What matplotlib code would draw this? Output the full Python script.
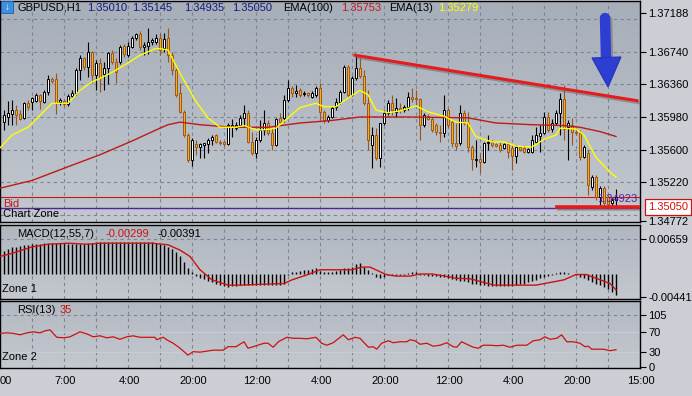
import numpy as np
import matplotlib.pyplot as plt
import matplotlib.patheffects as pe
from matplotlib.patches import Rectangle, Polygon
from matplotlib.colors import to_rgb

plt.rcParams['font.family'] = ['Liberation Sans', 'DejaVu Sans']

# ---- GBPUSD H1 candles (bars 1..154) ----
opens = [
    1.3592, 1.3598, 1.3602, 1.3606, 1.3602, 1.3597, 1.3614, 1.3616, 1.3617, 1.3624,
    1.3616, 1.3627, 1.3642, 1.3642, 1.3616, 1.3617, 1.3613, 1.3623, 1.3626, 1.3653,
    1.3667, 1.3656, 1.3674, 1.3647, 1.3661, 1.3648, 1.3655, 1.3673, 1.3662, 1.3662,
    1.3681, 1.3670, 1.3680, 1.3690, 1.3695, 1.3680, 1.3681, 1.3685, 1.3685, 1.3690,
    1.3678, 1.3690, 1.3670, 1.3653, 1.3626, 1.3604, 1.3577, 1.3548, 1.3567, 1.3563,
    1.3565, 1.3567, 1.3571, 1.3577, 1.3569, 1.3569, 1.3567, 1.3586, 1.3585, 1.3589,
    1.3597, 1.3603, 1.3569, 1.3556, 1.3571, 1.3583, 1.3591, 1.3579, 1.3565, 1.3597,
    1.3597, 1.3618, 1.3632, 1.3626, 1.3629, 1.3625, 1.3626, 1.3621, 1.3624, 1.3632,
    1.3604, 1.3595, 1.3598, 1.3610, 1.3616, 1.3627, 1.3656, 1.3624, 1.3643, 1.3655,
    1.3646, 1.3614, 1.3565, 1.3577, 1.3550, 1.3591, 1.3603, 1.3614, 1.3604, 1.3609,
    1.3606, 1.3610, 1.3621, 1.3620, 1.3619, 1.3589, 1.3599, 1.3596, 1.3589, 1.3581,
    1.3579, 1.3606, 1.3592, 1.3568, 1.3568, 1.3603, 1.3591, 1.3563, 1.3548, 1.3549,
    1.3546, 1.3568, 1.3569, 1.3567, 1.3565, 1.3562, 1.3567, 1.3562, 1.3553, 1.3563,
    1.3562, 1.3557, 1.3557, 1.3569, 1.3576, 1.3579, 1.3598, 1.3584, 1.3591, 1.3603,
    1.3619, 1.3586, 1.3589, 1.3581, 1.3579, 1.3551, 1.3556, 1.3516, 1.3528, 1.3505,
    1.3515, 1.3505, 1.3498, 1.35010]
highs = [
    1.3606, 1.3617, 1.3618, 1.3612, 1.3606, 1.3616, 1.3618, 1.3621, 1.3626, 1.3625,
    1.3629, 1.3647, 1.3645, 1.3649, 1.3620, 1.3619, 1.3625, 1.3629, 1.3655, 1.3670,
    1.3668, 1.3685, 1.3675, 1.3664, 1.3667, 1.3662, 1.3674, 1.3676, 1.3667, 1.3682,
    1.3683, 1.3685, 1.3692, 1.3696, 1.3698, 1.3685, 1.3702, 1.3690, 1.3695, 1.3696,
    1.3696, 1.3702, 1.3674, 1.3655, 1.3638, 1.3606, 1.3579, 1.3574, 1.3571, 1.3568,
    1.3568, 1.3574, 1.3577, 1.3578, 1.3571, 1.3570, 1.3591, 1.3596, 1.3592, 1.3600,
    1.3612, 1.3606, 1.3581, 1.3575, 1.3595, 1.3606, 1.3595, 1.3585, 1.3597, 1.3603,
    1.3624, 1.3641, 1.3634, 1.3635, 1.3632, 1.3628, 1.3627, 1.3628, 1.3634, 1.3638,
    1.3606, 1.3600, 1.3611, 1.3620, 1.3629, 1.3659, 1.3659, 1.3646, 1.3670, 1.3667,
    1.3653, 1.3629, 1.3586, 1.3585, 1.3591, 1.3606, 1.3618, 1.3624, 1.3620, 1.3614,
    1.3612, 1.3627, 1.3632, 1.3629, 1.3620, 1.3603, 1.3602, 1.3598, 1.3591, 1.3589,
    1.3624, 1.3609, 1.3595, 1.3591, 1.3612, 1.3606, 1.3604, 1.3565, 1.3571, 1.3556,
    1.3569, 1.3577, 1.3571, 1.3568, 1.3569, 1.3568, 1.3569, 1.3565, 1.3565, 1.3564,
    1.3565, 1.3562, 1.3577, 1.3586, 1.3589, 1.3604, 1.3604, 1.3596, 1.3606, 1.3626,
    1.3635, 1.3595, 1.3597, 1.3585, 1.3583, 1.3565, 1.3560, 1.3530, 1.3530, 1.3518,
    1.3518, 1.3507, 1.3504, 1.35145]
lows = [
    1.3583, 1.3589, 1.3589, 1.3589, 1.3595, 1.3596, 1.3606, 1.3606, 1.3616, 1.3607,
    1.3614, 1.3624, 1.3638, 1.3602, 1.3612, 1.3611, 1.3611, 1.3620, 1.3624, 1.3641,
    1.3653, 1.3645, 1.3638, 1.3629, 1.3627, 1.3629, 1.3636, 1.3660, 1.3638, 1.3660,
    1.3668, 1.3668, 1.3678, 1.3688, 1.3676, 1.3670, 1.3671, 1.3682, 1.3683, 1.3670,
    1.3674, 1.3662, 1.3647, 1.3621, 1.3603, 1.3575, 1.3546, 1.3541, 1.3554, 1.3550,
    1.3550, 1.3556, 1.3565, 1.3568, 1.3565, 1.3564, 1.3565, 1.3575, 1.3583, 1.3586,
    1.3586, 1.3568, 1.3554, 1.3550, 1.3569, 1.3577, 1.3577, 1.3560, 1.3564, 1.3591,
    1.3592, 1.3616, 1.3621, 1.3621, 1.3621, 1.3623, 1.3621, 1.3620, 1.3621, 1.3595,
    1.3591, 1.3592, 1.3597, 1.3606, 1.3613, 1.3626, 1.3621, 1.3623, 1.3641, 1.3643,
    1.3612, 1.3560, 1.3539, 1.3548, 1.3540, 1.3589, 1.3600, 1.3600, 1.3598, 1.3603,
    1.3604, 1.3606, 1.3616, 1.3612, 1.3571, 1.3586, 1.3594, 1.3581, 1.3577, 1.3569,
    1.3575, 1.3585, 1.3563, 1.3560, 1.3565, 1.3589, 1.3557, 1.3536, 1.3540, 1.3533,
    1.3544, 1.3560, 1.3563, 1.3563, 1.3557, 1.3561, 1.3550, 1.3536, 1.3544, 1.3558,
    1.3556, 1.3556, 1.3556, 1.3568, 1.3557, 1.3578, 1.3581, 1.3581, 1.3589, 1.3577,
    1.3571, 1.3548, 1.3565, 1.3577, 1.3548, 1.3550, 1.3507, 1.3513, 1.3501, 1.3495,
    1.3493, 1.3494, 1.3494, 1.34935]
closes = [
    1.3600, 1.3603, 1.3606, 1.3600, 1.3596, 1.3614, 1.3610, 1.3620, 1.3624, 1.3617,
    1.3627, 1.3642, 1.3640, 1.3614, 1.3618, 1.3613, 1.3623, 1.3626, 1.3653, 1.3667,
    1.3656, 1.3674, 1.3647, 1.3661, 1.3643, 1.3655, 1.3673, 1.3662, 1.3650, 1.3680,
    1.3671, 1.3681, 1.3690, 1.3695, 1.3680, 1.3682, 1.3685, 1.3688, 1.3690, 1.3676,
    1.3689, 1.3670, 1.3653, 1.3624, 1.3604, 1.3577, 1.3548, 1.3571, 1.3563, 1.3567,
    1.3568, 1.3571, 1.3575, 1.3569, 1.3568, 1.3567, 1.3589, 1.3589, 1.3589, 1.3597,
    1.3603, 1.3569, 1.3556, 1.3571, 1.3583, 1.3591, 1.3579, 1.3565, 1.3596, 1.3592,
    1.3618, 1.3632, 1.3626, 1.3628, 1.3624, 1.3626, 1.3624, 1.3626, 1.3632, 1.3604,
    1.3595, 1.3598, 1.3609, 1.3616, 1.3627, 1.3656, 1.3624, 1.3643, 1.3655, 1.3646,
    1.3614, 1.3571, 1.3577, 1.3550, 1.3591, 1.3603, 1.3614, 1.3606, 1.3609, 1.3606,
    1.3610, 1.3621, 1.3619, 1.3619, 1.3589, 1.3600, 1.3596, 1.3583, 1.3581, 1.3579,
    1.3606, 1.3589, 1.3568, 1.3564, 1.3603, 1.3591, 1.3563, 1.3549, 1.3549, 1.3546,
    1.3568, 1.3569, 1.3565, 1.3564, 1.3560, 1.3567, 1.3557, 1.3553, 1.3563, 1.3560,
    1.3557, 1.3561, 1.3571, 1.3577, 1.3579, 1.3598, 1.3583, 1.3591, 1.3603, 1.3619,
    1.3584, 1.3591, 1.3581, 1.3579, 1.3551, 1.3563, 1.3519, 1.3528, 1.3505, 1.3515,
    1.3498, 1.3497, 1.3501, 1.35050]

# moving averages (bar index, value)
ema13_idx = [0, 3, 7, 10, 13, 17, 20, 23, 25, 28, 32, 35, 39, 41, 42, 45, 49, 52, 55, 59,
             61, 64, 66, 69, 72, 75, 79, 81, 84, 87, 90, 92, 94, 97, 100, 104, 107, 111,
             114, 117, 119, 123, 126, 129, 133, 136, 139, 140, 144, 146, 149, 152, 154]
ema13_val = [1.3562, 1.3577, 1.3586, 1.3600, 1.3614, 1.3614, 1.3629, 1.3639, 1.3643, 1.3650,
             1.3661, 1.3670, 1.3678, 1.3677, 1.3676, 1.3649, 1.3616, 1.3597, 1.3586, 1.3586,
             1.3588, 1.3583, 1.3583, 1.3585, 1.3597, 1.3609, 1.3614, 1.3610, 1.3610, 1.3620,
             1.3629, 1.3624, 1.3606, 1.3603, 1.3605, 1.3611, 1.3604, 1.3599, 1.3592, 1.3591,
             1.3575, 1.3569, 1.3569, 1.3564, 1.3563, 1.3572, 1.3577, 1.3585, 1.3584, 1.3577,
             1.3551, 1.3536, 1.35279]
ema100_idx = [0, 8, 17, 25, 33, 40, 42, 45, 50, 58, 67, 75, 83, 90, 102, 117, 124, 133,
              141, 145, 150, 154]
ema100_val = [1.3515, 1.3524, 1.3540, 1.3554, 1.3570, 1.3585, 1.3589, 1.3592, 1.3589, 1.3586,
              1.3586, 1.3591, 1.3594, 1.3598, 1.3598, 1.3597, 1.3591, 1.3589, 1.3588, 1.3586,
              1.3581, 1.35753]

# MACD(12,55,7) histogram per bar and signal line
macd_hist = [
    0.0043, 0.0047, 0.0050, 0.0051, 0.0053, 0.0055, 0.0055, 0.0056, 0.0056, 0.0057,
    0.0058, 0.0058, 0.0059, 0.0059, 0.0058, 0.0058, 0.0056, 0.0056, 0.0056, 0.0056,
    0.0057, 0.0058, 0.0059, 0.0060, 0.0060, 0.0060, 0.0060, 0.0060, 0.0060, 0.0060,
    0.0060, 0.0060, 0.0060, 0.0060, 0.0060, 0.0060, 0.0060, 0.0060, 0.0058, 0.0057,
    0.0055, 0.0051, 0.0047, 0.0041, 0.0033, 0.0023, 0.0012, 0.0003, -0.0003, -0.0007,
    -0.0010, -0.0013, -0.0016, -0.0018, -0.0021, -0.0023, -0.0024, -0.0023, -0.0022, -0.0021,
    -0.0021, -0.0021, -0.0021, -0.0021, -0.0021, -0.0021, -0.0021, -0.0021, -0.0021, -0.0020,
    -0.0018, -0.0002, 0.0003, 0.0004, 0.0006, 0.0007, 0.0008, 0.0010, 0.0012, 0.0006,
    0.0004, 0.0004, 0.0004, 0.0006, 0.0008, 0.0011, 0.0012, 0.0014, 0.0018, 0.0020,
    0.0014, 0.0008, 0.0001, -0.0005, -0.0007, -0.0005, -0.0002, -0.0002, -0.0001, -0.0001,
    -0.0001, 0.0001, 0.0003, 0.0004, -0.0001, -0.0002, -0.0004, -0.0003, -0.0004, -0.0005,
    -0.0006, -0.0008, -0.0009, -0.0011, -0.0013, -0.0014, -0.0016, -0.0018, -0.0019, -0.0021,
    -0.0021, -0.0022, -0.0022, -0.0022, -0.0022, -0.0022, -0.0022, -0.0022, -0.0021, -0.0019,
    -0.0018, -0.0016, -0.0013, -0.0011, -0.0008, -0.0005, -0.0003, -0.0001, 0.0001, 0.0003,
    0.0003, 0.0001, 0.0000, -0.0002, -0.0005, -0.0008, -0.0012, -0.0016, -0.0018, -0.0021,
    -0.0024, -0.0029, -0.0033, -0.00391]
signal_idx = [0, 3, 8, 12, 17, 22, 25, 33, 38, 42, 45, 47.5, 50, 53, 57, 60, 67, 71, 73, 77,
              80, 88, 90.5, 92.5, 96.5, 99, 102.5, 105, 108, 110.5, 114, 117.5, 121, 123.5,
              134, 137.5, 141, 144, 146.5, 149, 152.5, 154]
signal_val = [0.0033, 0.0039, 0.0051, 0.0056, 0.0058, 0.0056, 0.0058, 0.0058, 0.0058, 0.0055,
              0.0045, 0.0033, 0.0008, -0.0011, -0.0021, -0.0021, -0.0019, -0.0018, -0.0011,
              -0.0001, 0.0008, 0.0008, 0.0013, 0.0013, -0.0001, -0.0004, -0.0004, 0.0000,
              0.0000, -0.0003, -0.0008, -0.0009, -0.0016, -0.0021, -0.0021, -0.0016, -0.0011,
              -0.0001, -0.0001, -0.0008, -0.0018, -0.00299]

# RSI(13)
rsi_idx = [0, 1.7, 3.3, 5, 6.7, 8.3, 10, 11.3, 12.5, 13.3, 14.2, 16, 17.5, 20, 21.7, 23.3, 25,
           26.7, 28.3, 30, 31.7, 33.3, 35, 38.7, 39.2, 40, 40.8, 41.7, 43.3, 45, 47, 48.3, 50,
           53.3, 55.8, 57, 59, 61, 62, 63.3, 66, 67, 68.3, 69.6, 71.7, 73.3, 75, 76.7, 79,
           80.4, 81.7, 83.3, 85.8, 87.1, 88.75, 90, 92.1, 93.3, 94.2, 95.4, 97.1, 98.3, 100,
           101.7, 102.5, 103.75, 105, 106.7, 108.3, 110, 111.7, 113.3, 114.2, 115.4, 116.7,
           118.3, 119.6, 120.8, 122.5, 124.2, 125.8, 127.5, 129.2, 131.7, 133.3, 135, 136.25,
           137.5, 139.2, 140.4, 141.7, 143.3, 145, 146.25, 147.1, 147.9, 149.2, 150.8, 152.5,
           153.3, 154]
rsi_val = [68, 69, 68, 65, 69, 71, 69, 73, 75, 68, 60, 59, 61, 71, 67, 61, 63,
           59, 61, 56, 61, 63, 60, 60, 55, 58, 60, 55, 48, 38, 24, 31, 30,
           34, 34, 41, 41, 51, 38, 41, 48, 48, 40, 51, 60, 58, 58, 57, 60,
           48, 44, 49, 65, 55, 60, 58, 40, 41, 36, 48, 53, 49, 51,
           51, 55, 53, 46, 48, 42, 44, 49, 41, 40, 51, 46,
           40, 38, 44, 44, 43, 44, 40, 44, 44, 53, 55, 61,
           56, 58, 65, 51, 51, 48, 41, 42, 36, 36, 36, 33,
           34, 35]

# axis labels / levels
price_ticks = [1.37188, 1.36740, 1.36360, 1.35980, 1.35600, 1.35220, 1.34772]
price_grid = [1.3712, 1.3674, 1.3636, 1.3598, 1.3560, 1.3522, 1.3484]
macd_ticks = [0.00659, -0.00441]
rsi_ticks = [105, 70, 30, 0]
time_labels = ['7:00', '4:00', '20:00', '12:00', '4:00', '20:00', '12:00', '4:00', '20:00', '15:00']
bid = 1.35050
zone_line = 1.34923
trend_x = [88.75, 159.25]
trend_y = [1.3670, 1.3617]
support_x = [139.25, 159.5]
support_y = [1.3493, 1.3493]

W, H = 692, 396
fig = plt.figure(figsize=(W / 100, H / 100), dpi=100)
fig.patch.set_facecolor('#cbcfd5')


def px_axes(x0, y0, x1, y1):
    return fig.add_axes([x0 / W, 1 - y1 / H, (x1 - x0) / W, (y1 - y0) / H])


def shade(a, top, bottom):
    t, b = np.array(to_rgb(top)), np.array(to_rgb(bottom))
    g = t + np.linspace(0, 1, 64)[:, None] * (b - t)
    a.imshow(g[:, None, :], extent=[0, 1, 0, 1], transform=a.transAxes,
             aspect='auto', zorder=0, interpolation='bilinear')


def ftext(x, y, s, **kw):
    kw.setdefault('fontsize', 8)
    kw.setdefault('va', 'center')
    fig.text(x / W, 1 - y / H, s, **kw)


ax = px_axes(0, 1, 640, 222)
am = px_axes(0, 225, 640, 299)
ar = px_axes(0, 301, 640, 368)

shade(ax, '#a6aeb9', '#c3c8cf')
shade(am, '#b1b7c0', '#c3c7ce')
shade(ar, '#b3b9c2', '#c4c8cf')

grid_kw = dict(color='#7b8594', lw=0.8, ls=(0, (3, 3)), zorder=1)
for a in (ax, am, ar):
    a.set_xlim(0, 160)
    for k in range(8, 160, 8):
        a.axvline(k, **grid_kw)
    for s in a.spines.values():
        s.set_color('black')
        s.set_linewidth(1)
    a.yaxis.tick_right()
    a.tick_params(axis='y', length=4, width=0.8, pad=2, labelsize=8, colors='black')
    a.tick_params(axis='x', bottom=False, labelbottom=False)

# ---- main price panel ----
ax.set_ylim(1.34756, 1.37332)
for p in price_grid:
    ax.axhline(p, **grid_kw)
ax.set_yticks(price_ticks, labels=[f'{v:.5f}' for v in price_ticks])

xs = np.arange(1, len(closes) + 1)
for x, o, h, l, c in zip(xs, opens, highs, lows, closes):
    up = c >= o
    ax.vlines(x, l, h, color='black' if up else '#9a5418', lw=0.8, zorder=3)
    ax.add_patch(Rectangle((x - 0.3, min(o, c)), 0.6, max(abs(c - o), 0.00003),
                           facecolor='white' if up else '#f2b111',
                           edgecolor='black' if up else '#a0561a', lw=0.7, zorder=4))

ax.plot(ema100_idx, ema100_val, color='#bd1a1a', lw=1, zorder=5)
ax.plot(ema13_idx, ema13_val, color='#ffff00', lw=1, zorder=5)

ax.axhline(bid, color='#c01818', lw=0.8, zorder=2)
ax.axhline(zone_line, color='#5a1f9a', lw=1, zorder=2)

shadow = [pe.SimpleLineShadow(offset=(1.5, -1.5), shadow_color='#555555', alpha=0.4), pe.Normal()]
ax.plot(trend_x, trend_y, color='#e61c1c', lw=2.2, zorder=6, path_effects=shadow)
ax.plot(support_x, support_y, color='#e61c1c', lw=2.6, zorder=6, path_effects=shadow)

# blue arrow
ax.plot([151.25, 151.5], [1.37134, 1.36668], color='#2d3ed2', lw=7.5,
        solid_capstyle='round', zorder=7, path_effects=shadow)
ax.add_patch(Polygon([(148.0, 1.36668), (155.25, 1.36680), (152.0, 1.36330)],
                     closed=True, facecolor='#2d3ed2', edgecolor='#2433b8', lw=0.8, zorder=7))

ftext(637, 199, '1.34923', color='#5a1f9a', ha='right', zorder=8)
ftext(3, 204, 'Bid', color='#c01818')
ftext(3, 214, 'Chart Zone', color='black')
ftext(668, 207, '1.35050', color='#d01010', ha='center',
      bbox=dict(facecolor='white', edgecolor='#d01010', boxstyle='square,pad=0.25', lw=0.9))

# header
fig.patches.append(Rectangle((1 / W, 1 - 13 / H), 12 / W, 12 / H, transform=fig.transFigure,
                             facecolor='#3d8fe0', edgecolor='#1d5fae', lw=0.6, zorder=10))
ftext(7, 7.5, '\u2193', color='white', ha='center', fontsize=7, fontweight='bold', zorder=11)
ftext(17, 8, 'GBPUSD,H1', color='black')
for xpos, s in zip([87, 132, 184, 232], ['1.35010', '1.35145', '1.34935', '1.35050']):
    ftext(xpos, 8, s, color='#18187e')
ftext(283, 8, 'EMA(100)', color='black')
ftext(341, 8, '1.35753', color='#c01818')
ftext(389, 8, 'EMA(13)', color='black')
ftext(438, 8, '1.35279', color='#ffff00')

# ---- MACD panel ----
am.set_ylim(-0.00471, 0.00923)
am.axhline(0.00659, **grid_kw)
am.vlines(xs, 0, macd_hist, color='black', lw=1.0, zorder=3)
am.plot(signal_idx, signal_val, color='#cc1111', lw=1, zorder=4)
am.set_yticks(macd_ticks, labels=['0.00659', '-0.00441'])
ftext(17, 234, 'MACD(12,55,7)', color='black')
ftext(105, 234, '-0.00299', color='#cc1111')
ftext(157, 234, '-0.00391', color='black')
ftext(2, 289, 'Zone 1', color='black')

# ---- RSI panel ----
ar.set_ylim(-2, 133.3)
ar.axhline(105, **grid_kw)
for lvl in (30, 70):
    ar.axhline(lvl, color='#c9cdd3', lw=0.8, zorder=1)
ar.plot(rsi_idx, rsi_val, color='#cc1111', lw=0.9, zorder=4)
ar.set_yticks(rsi_ticks, labels=[str(v) for v in rsi_ticks])
ftext(17, 310, 'RSI(13)', color='black')
ftext(60, 310, '35', color='#cc1111')
ftext(2, 357, 'Zone 2', color='black')

# time axis
ftext(0, 381, '00', color='black', ha='left')
for j, s in enumerate(time_labels):
    ftext(64 * (j + 1) + 1, 381, s, color='black', ha='center')

fig.savefig('out.png', dpi=100, facecolor=fig.get_facecolor())
